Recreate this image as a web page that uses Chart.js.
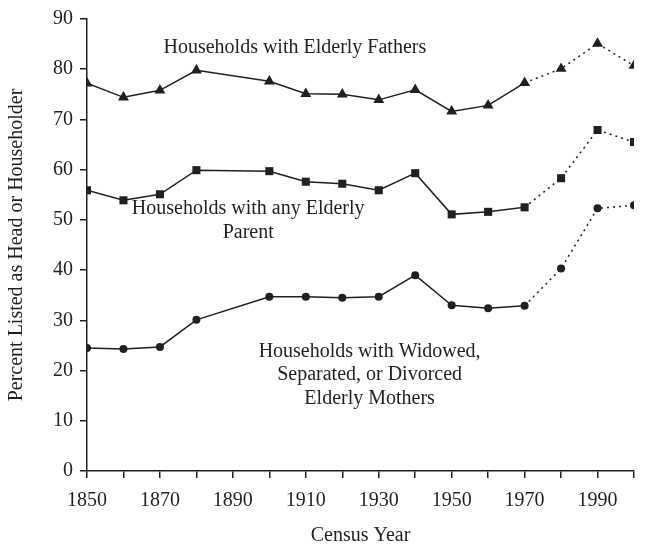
<!DOCTYPE html>
<html>
<head>
<meta charset="utf-8">
<script src="https://cdn.jsdelivr.net/npm/chart.js@4/dist/chart.umd.min.js"></script>
<style>
    html, body { margin: 0; padding: 0; background: #fff; }
    #chart1 { display: block; }
</style>
</head>
<body>
<canvas id="chart1" width="645" height="548"></canvas>
<script>
// Años del censo (no hay dato para 1890).
const ANIOS = [1850, 1860, 1870, 1880, 1900, 1910, 1920, 1930, 1940, 1950, 1960, 1970, 1980, 1990, 2000];
// Porcentaje de hogares con padres ancianos.
const PADRES = [77.2, 74.4, 75.8, 79.8, 77.6, 75.1, 75.0, 73.9, 75.9, 71.6, 72.8, 77.3, 80.1, 85.1, 80.7];
// Porcentaje de hogares con cualquier progenitor anciano.
const CUALQUIER_PROGENITOR = [55.9, 53.9, 55.1, 59.9, 59.7, 57.6, 57.2, 55.9, 59.3, 51.1, 51.6, 52.5, 58.3, 67.9, 65.5];
// Porcentaje de hogares con madres viudas, separadas o divorciadas.
const MADRES = [24.5, 24.3, 24.7, 30.1, 34.7, 34.7, 34.5, 34.7, 39.0, 33.0, 32.4, 32.9, 40.3, 52.3, 52.9];
// Etiquetas visibles del eje X.
const ETIQUETAS_X = [1850, 1870, 1890, 1910, 1930, 1950, 1970, 1990];
// Marcas del eje Y.
const TICKS_Y = [0, 10, 20, 30, 40, 50, 60, 70, 80, 90];
// Año a partir del cual la línea es punteada.
const ANIO_PUNTEADO = 1970;

// Textos de las series.
const TEXTO_PADRES = ['Households with Elderly Fathers'];
const TEXTO_PROGENITOR = ['Households with any Elderly', 'Parent'];
const TEXTO_MADRES = ['Households with Widowed,', 'Separated, or Divorced', 'Elderly Mothers'];

const NEGRO = '#231f20';
const FUENTE = "'Liberation Serif', 'DejaVu Serif', serif";

// Función para armar los puntos {x, y} de una serie.
const armarPuntos = (valores) => ANIOS.map((anio, i) => ({ x: anio, y: valores[i] }));

// Función para crear un conjunto de datos con su tipo de marcador.
const crearSerie = (etiqueta, valores, marcador, radio) => ({
    label: etiqueta,
    data: armarPuntos(valores),
    borderColor: NEGRO,
    backgroundColor: NEGRO,
    borderWidth: 1.5,
    pointStyle: marcador,
    pointRadius: radio,
    pointBorderWidth: 0,
    pointBackgroundColor: NEGRO,
    tension: 0,
    segment: {
        borderDash: ctx => ctx.p0.parsed.x >= ANIO_PUNTEADO ? [2, 4] : undefined
    }
});

// Plugin para escribir los rótulos de cada serie dentro del gráfico.
const rotulos = {
    id: 'rotulos',
    afterDatasetsDraw(chart) {
        const { ctx, scales } = chart;
        const textos = [
            { lineas: TEXTO_PADRES, x: 1907.0, y: 84.3 },
            { lineas: TEXTO_PROGENITOR, x: 1894.2, y: 52.2 },
            { lineas: TEXTO_MADRES, x: 1927.5, y: 23.8 }
        ];
        ctx.save();
        ctx.fillStyle = NEGRO;
        ctx.font = '20px ' + FUENTE;
        ctx.textAlign = 'center';
        ctx.textBaseline = 'middle';
        textos.forEach(t => {
            const px = scales.x.getPixelForValue(t.x);
            const py = scales.y.getPixelForValue(t.y);
            t.lineas.forEach((linea, i) => ctx.fillText(linea, px, py + i * 23.5));
        });
        ctx.restore();
    }
};

const lienzo = document.getElementById('chart1');
const grafico = new Chart(lienzo.getContext('2d'), {
    type: 'line',
    data: {
        datasets: [
            crearSerie('Households with Elderly Fathers', PADRES, 'triangle', 6.3),
            crearSerie('Households with any Elderly Parent', CUALQUIER_PROGENITOR, 'rect', 5.7),
            crearSerie('Households with Widowed, Separated, or Divorced Elderly Mothers', MADRES, 'circle', 4)
        ]
    },
    options: {
        responsive: false,
        animation: false,
        layout: { padding: { top: 2, right: 11, left: 0, bottom: 0 } },
        plugins: {
            legend: { display: false },
            tooltip: { enabled: false }
        },
        scales: {
            x: {
                type: 'linear',
                min: 1850,
                max: 2000,
                afterFit: escala => { escala.height = 77; },
                border: { color: NEGRO, width: 1.5 },
                grid: { drawOnChartArea: false, color: NEGRO, tickLength: 7, lineWidth: 1.5 },
                ticks: {
                    stepSize: 10,
                    autoSkip: false,
                    maxRotation: 0,
                    padding: 11,
                    color: NEGRO,
                    font: { family: FUENTE, size: 20 },
                    callback: valor => ETIQUETAS_X.includes(valor) ? String(valor) : ''
                },
                title: {
                    display: true,
                    text: 'Census Year',
                    color: NEGRO,
                    font: { family: FUENTE, size: 20 },
                    padding: { top: 4, bottom: 0 }
                }
            },
            y: {
                min: 0,
                max: 90,
                afterFit: escala => { escala.width = 87; },
                afterBuildTicks: escala => { escala.ticks = TICKS_Y.map(v => ({ value: v })); },
                border: { color: NEGRO, width: 1.5 },
                grid: { drawOnChartArea: false, color: NEGRO, tickLength: 7, lineWidth: 1.5 },
                ticks: {
                    padding: 7,
                    color: NEGRO,
                    font: { family: FUENTE, size: 20 }
                },
                title: {
                    display: true,
                    text: 'Percent Listed as Head or Householder',
                    color: NEGRO,
                    font: { family: FUENTE, size: 20 },
                    padding: { top: 5, bottom: 0 }
                }
            }
        }
    },
    plugins: [rotulos]
});
</script>
</body>
</html>
